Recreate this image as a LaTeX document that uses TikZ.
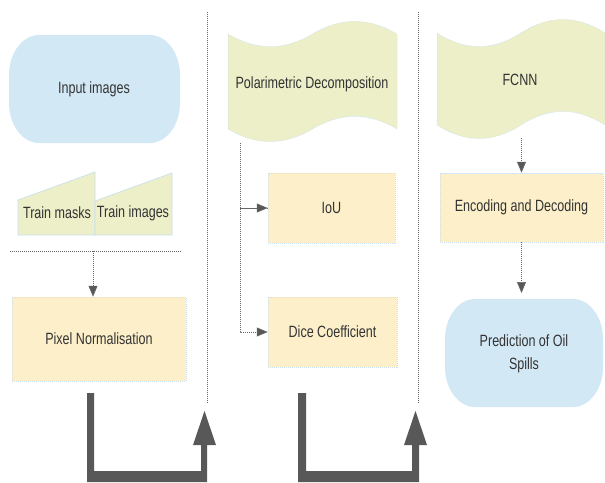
\documentclass[tikz,border=0pt]{standalone}
\usepackage{fontspec}
\setmainfont{Liberation Sans}[FakeStretch=0.77]
\usetikzlibrary{arrows.meta}

\definecolor{bluefill}{HTML}{D3E8F5}
\definecolor{yellowfill}{HTML}{FCEFCA}
\definecolor{greenfill}{HTML}{ECEFC8}
\definecolor{edgeblue}{HTML}{C9E0F0}
\definecolor{txt}{HTML}{333333}
\definecolor{linkgray}{HTML}{666666}
\definecolor{bigarrow}{HTML}{585858}

% wavy "tape" outline: [style]{x}{y}{w}{h}{wave}
\newcommand\tapeshape[6][]{%
  \path[#1] (#2,{#3+#6/2})
    .. controls ({#2+#4/6},{#3+1.1*#6}) and ({#2+#4/3},{#3+1.1*#6}) .. ({#2+#4/2},{#3+#6/2})
    .. controls ({#2+2*#4/3},{#3-0.1*#6}) and ({#2+5*#4/6},{#3-0.1*#6}) .. ({#2+#4},{#3+#6/2})
    -- ({#2+#4},{#3+#5-#6/2})
    .. controls ({#2+5*#4/6},{#3+#5-1.1*#6}) and ({#2+2*#4/3},{#3+#5-1.1*#6}) .. ({#2+#4/2},{#3+#5-#6/2})
    .. controls ({#2+#4/3},{#3+#5+0.1*#6}) and ({#2+#4/6},{#3+#5+0.1*#6}) .. (#2,{#3+#5-#6/2})
    -- cycle;}

% rounded terminator outline with elliptic corners: [style]{x}{y}{w}{h}{rx}{ry}
\newcommand\termshape[7][]{%
  \path[#1] ({#2+#6},#3) -- ({#2+#4-#6},#3)
    .. controls ({#2+#4-0.448*#6},#3) and ({#2+#4},{#3+0.448*#7}) .. ({#2+#4},{#3+#7})
    -- ({#2+#4},{#3+#5-#7})
    .. controls ({#2+#4},{#3+#5-0.448*#7}) and ({#2+#4-0.448*#6},{#3+#5}) .. ({#2+#4-#6},{#3+#5})
    -- ({#2+#6},{#3+#5})
    .. controls ({#2+0.448*#6},{#3+#5}) and (#2,{#3+#5-0.448*#7}) .. (#2,{#3+#5-#7})
    -- (#2,{#3+#7})
    .. controls (#2,{#3+0.448*#7}) and ({#2+0.448*#6},#3) .. ({#2+#6},#3)
    -- cycle;}

\tikzset{
  label/.style={inner sep=0pt, align=center},
  procbox/.style={rectangle, fill=yellowfill, draw=edgeblue, line width=0.5pt,
    dash pattern=on 1pt off 1pt, inner sep=0pt, align=center},
  tapestyle/.style={fill=greenfill, draw=edgeblue, line width=0.5pt, dash pattern=on 1pt off 1pt},
  termstyle/.style={fill=bluefill},
  inputstyle/.style={fill=greenfill, draw=edgeblue, line width=0.7pt},
  sep/.style={draw=linkgray, line width=0.6pt, dash pattern=on 1pt off 1pt},
  link/.style={draw=linkgray, line width=0.7pt, dash pattern=on 1pt off 1pt,
    -{Triangle[length=11pt,width=9pt,fill=bigarrow]}},
  flowarrow/.style={fill=bigarrow},
}

\begin{document}
\begin{tikzpicture}[x=1pt, y=-1pt, font=\fontsize{16.3}{23}\selectfont, text=txt]
\useasboundingbox (0,0) rectangle (605,482);

% ---- column separators ----
\draw[sep] (207,12) -- (207,403);
\draw[sep] (418,12) -- (418,403);
\coordinate (splitL) at (10,251);
\coordinate (splitR) at (182,251);
\coordinate (split) at (93,251);
\draw[sep] (splitL) -- (splitR);

% ---- left column ----
\termshape[termstyle]{9}{35}{171}{108}{30}{40}
\node[label] (input) at (94,89) {Input images};

\path[inputstyle] (18,200) -- (95,172) -- (95,235) -- (18,235) -- cycle;
\path[inputstyle] (95,201) -- (172,173) -- (172,235) -- (95,235) -- cycle;
\node[label] (masks) at (57,213) {Train masks};
\node[label] (images) at (133,213) {Train images};

\node[procbox, minimum width=174pt, minimum height=84pt] (pix) at (99,339) {Pixel Normalisation};
\draw[link] (split) -- (split |- pix.north);

% ---- middle column ----
\tapeshape[tapestyle]{228}{20}{169}{123}{28}
\node[label] (polar) at (312,84) {Polarimetric Decomposition};
\coordinate (pstart) at (240,143);

\node[procbox, minimum width=127pt, minimum height=70pt] (iou) at (331.5,208) {IoU};
\node[procbox, minimum width=129pt, minimum height=70pt] (dice) at (332.5,332) {Dice Coefficient};
\draw[sep] (pstart) |- (iou.west);
\draw[link] (pstart |- iou.west) -- (iou.west);
\draw[link] (pstart) |- (dice.west);

% ---- right column ----
\tapeshape[tapestyle]{437}{18}{168}{122}{30}
\node[label] (fcnn) at (520,80) {FCNN};
\coordinate (fstart) at (521.5,138);

\node[procbox, minimum width=163pt, minimum height=69pt] (enc) at (521.5,207.5) {Encoding and Decoding};
\draw[link] (fstart) -- (enc.north);

\termshape[termstyle]{445}{299}{158}{108}{30}{40}
\coordinate (predtop) at (521.5,299);
\node[label] (pred) at (524,354) {Prediction of Oil\\Spills};
\draw[link, shorten >=6pt] (enc.south) -- (predtop);

% ---- flow arrows between columns ----
\fill[flowarrow] (87,393) -- (87,482) -- (207,482) -- (207,445) -- (216,445)
  -- (204.5,411) -- (193,445) -- (201,445) -- (201,471) -- (94,471) -- (94,393) -- cycle;
\fill[flowarrow] (298,393) -- (298,482) -- (419,482) -- (419,445) -- (427,445)
  -- (415.5,411) -- (404,445) -- (412,445) -- (412,471) -- (306,471) -- (306,393) -- cycle;
\end{tikzpicture}
\end{document}
